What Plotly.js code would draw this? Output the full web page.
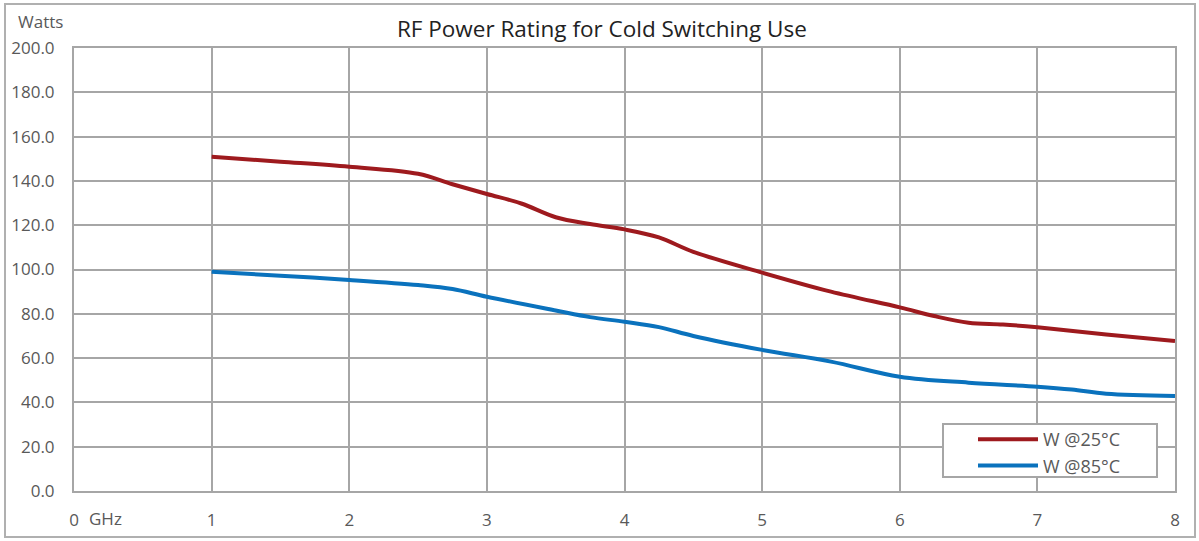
<!DOCTYPE html>
<html>
<head>
<meta charset="utf-8">
<script src="https://cdn.plot.ly/plotly-3.0.1.min.js"></script>
<style>
html,body{margin:0;padding:0;background:#fff;}
#wrap{position:relative;width:1199px;height:541px;}
#chart{width:1199px;height:541px;}
#frame{position:absolute;left:4px;top:3px;width:1192px;height:535px;border:2px solid #b0b0b0;pointer-events:none;box-sizing:border-box;}
</style>
</head>
<body>
<div id="wrap"><div id="chart"></div><div id="frame"></div></div>
<script>
var ghzRed = [1, 1.5, 2, 2.5, 2.75, 3, 3.25, 3.5, 3.75, 4, 4.25, 4.5, 5, 5.5, 6, 6.25, 6.5, 6.75, 7, 7.5, 8];
var watts25 = [150.9, 148.7, 146.4, 143.2, 138.5, 134.1, 129.8, 123.6, 120.5, 118.1, 114.5, 108.0, 98.6, 90.0, 82.9, 79.0, 76.0, 75.2, 73.9, 70.7, 67.7];
var ghzBlue = [1, 1.5, 2, 2.5, 2.75, 3, 3.5, 3.75, 4, 4.25, 4.5, 5, 5.5, 6, 6.5, 7, 7.25, 7.5, 8];
var watts85 = [99.0, 97.2, 95.3, 93.0, 91.2, 87.7, 81.5, 78.5, 76.4, 74.0, 70.0, 63.7, 58.4, 51.6, 48.9, 47.1, 45.8, 43.9, 42.9];
var xTickVals = [0, 1, 2, 3, 4, 5, 6, 7, 8];
var xTickText = ['0', '1', '2', '3', '4', '5', '6', '7', '8'];
var seriesNames = ['W @25°C', 'W @85°C'];

var fontFam = 'Open Sans, Noto Sans, sans-serif';
var grey = '#595959';
var gridC = '#a6a6a6';
var PW = 1101, PH = 443;

var traces = [
  {x: ghzRed, y: watts25, name: seriesNames[0], mode: 'lines', type: 'scatter',
   line: {color: '#9e1a1e', width: 4, shape: 'spline', smoothing: 1}},
  {x: ghzBlue, y: watts85, name: seriesNames[1], mode: 'lines', type: 'scatter',
   line: {color: '#0a72bd', width: 4, shape: 'spline', smoothing: 1}}
];

var layout = {
  width: 1199, height: 541,
  margin: {l: 74, r: 24, t: 48, b: 50},
  paper_bgcolor: '#fff', plot_bgcolor: '#fff',
  font: {family: fontFam, size: 17, color: grey},
  title: {text: 'RF Power Rating for Cold Switching Use', x: 0.502, xref: 'container', xanchor: 'center',
          y: 0.947, yanchor: 'middle',
          font: {family: fontFam, size: 22.5, color: '#222'}},
  showlegend: true,
  legend: {x: (973 - 74) / PW, y: 1 - (421 - 48) / PH, xanchor: 'left', yanchor: 'top', bgcolor: 'rgba(0,0,0,0)',
           borderwidth: 0, font: {family: fontFam, size: 18, color: grey},
           itemwidth: 60, tracegroupgap: 0},
  xaxis: {range: [0, 8], tickvals: xTickVals, ticktext: xTickText, showgrid: true, gridcolor: gridC, gridwidth: 2,
          zeroline: false, showline: true, linecolor: gridC, linewidth: 2, mirror: true, ticks: '',
          ticklabelstandoff: 13, fixedrange: true, tickfont: {size: 17, color: grey}},
  yaxis: {range: [0, 200], dtick: 20, tick0: 0, tickformat: '.1f', showgrid: true, gridcolor: gridC, gridwidth: 2,
          zeroline: false, showline: true, linecolor: gridC, linewidth: 2, mirror: true, ticks: '',
          ticklabelstandoff: 14, fixedrange: true, tickfont: {size: 17, color: grey}},
  shapes: [
    {type: 'rect', xref: 'paper', yref: 'paper', layer: 'above',
     x0: (943 - 74) / PW, x1: (1157 - 74) / PW, y0: (491 - 477) / PH, y1: (491 - 424) / PH,
     fillcolor: '#fff', line: {color: gridC, width: 2}}
  ],
  annotations: [
    {text: 'Watts', xref: 'paper', yref: 'paper', x: -58/PW, y: 1 + 26/PH, xanchor: 'left', yanchor: 'middle',
     showarrow: false, font: {family: fontFam, size: 17, color: grey}},
    {text: 'GHz', xref: 'paper', yref: 'paper', x: 13/PW, y: -27/PH, xanchor: 'left', yanchor: 'middle',
     showarrow: false, font: {family: fontFam, size: 17, color: grey}}
  ]
};

Plotly.newPlot('chart', traces, layout, {displayModeBar: false, staticPlot: true});
</script>
</body>
</html>
